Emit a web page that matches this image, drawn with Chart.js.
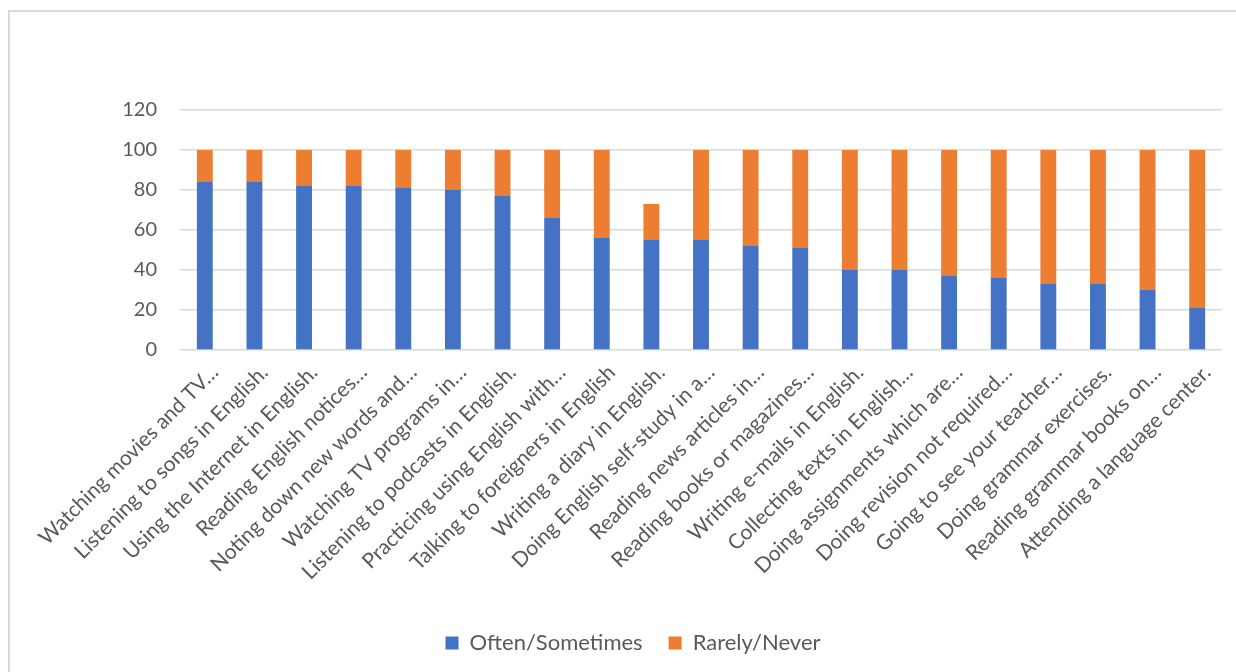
<!DOCTYPE html>
<html>
<head>
<meta charset="utf-8">
<title>English learning activities</title>
<script src="https://cdn.jsdelivr.net/npm/chart.js@4.4.1/dist/chart.umd.min.js"></script>
<style>
  html, body { margin: 0; padding: 0; background: #fff; }
  #wrap { width: 1236px; height: 672px; }
</style>
</head>
<body>
<div id="wrap"><canvas id="activityChart" width="1236" height="672"></canvas></div>
<script>
const activities = [
  'Watching movies and TV…',
  'Listening to songs in English.',
  'Using the Internet in English.',
  'Reading English notices…',
  'Noting down new words and…',
  'Watching TV programs in…',
  'Listening to podcasts in English.',
  'Practicing using English with…',
  'Talking to foreigners in English',
  'Writing a diary in English.',
  'Doing English self-study in a…',
  'Reading news articles in…',
  'Reading books or magazines…',
  'Writing e-mails in English.',
  'Collecting texts in English…',
  'Doing assignments which are…',
  'Doing revision not required…',
  'Going to see your teacher…',
  'Doing grammar exercises.',
  'Reading grammar books on…',
  'Attending a language center.'
];
const oftenSometimes = [84, 84, 82, 82, 81, 80, 77, 66, 56, 55, 55, 52, 51, 40, 40, 37, 36, 33, 33, 30, 21];
const rarelyNever    = [16, 16, 18, 18, 19, 20, 23, 34, 44, 18, 45, 48, 49, 60, 60, 63, 64, 67, 67, 70, 79];
const yTicks = [0, 20, 40, 60, 80, 100, 120];

const textColor = '#595959';
const gridColor = '#d9d9d9';
const fontFamily = 'Lato, "Open Sans", sans-serif';

// light frame around the chart area, like an office chart
const chartFrame = {
  id: 'chartFrame',
  beforeDraw(chart) {
    const ctx = chart.ctx;
    ctx.save();
    ctx.fillStyle = '#fff';
    ctx.fillRect(0, 0, chart.width, chart.height);
    ctx.strokeStyle = gridColor;
    ctx.lineWidth = 2;
    ctx.strokeRect(9, 11, chart.width + 20, chart.height + 20);
    ctx.restore();
  },
  // legend sits a little right of centre
  afterLayout(chart) {
    if (chart.legend) {
      chart.legend.left += 17;
      chart.legend.right += 17;
    }
  }
};

new Chart(document.getElementById('activityChart'), {
  type: 'bar',
  data: {
    labels: activities,
    datasets: [
      { label: 'Often/Sometimes', data: oftenSometimes, backgroundColor: '#4472c4' },
      { label: 'Rarely/Never', data: rarelyNever, backgroundColor: '#ed7d31' }
    ]
  },
  options: {
    responsive: false,
    animation: false,
    layout: { padding: { top: 110, left: 10, right: 14, bottom: 8 } },
    datasets: { bar: { categoryPercentage: 1, barPercentage: 0.32 } },
    plugins: {
      legend: {
        position: 'bottom',
        labels: {
          color: textColor,
          font: { family: fontFamily, size: 22 },
          boxWidth: 13,
          boxHeight: 13,
          padding: 26
        }
      },
      tooltip: { enabled: false }
    },
    scales: {
      x: {
        stacked: true,
        grid: { display: false },
        border: { display: false },
        ticks: {
          color: textColor,
          font: { family: fontFamily, size: 21 },
          minRotation: 45,
          maxRotation: 45,
          autoSkip: false,
          padding: 2,
          labelOffset: 10
        },
        afterFit(scale) { scale.height = 256; }
      },
      y: {
        stacked: true,
        min: 0,
        max: 120,
        afterBuildTicks(scale) { scale.ticks = yTicks.map(v => ({ value: v })); },
        grid: { color: gridColor, lineWidth: 1.5, drawTicks: false },
        border: { display: false },
        ticks: {
          color: textColor,
          font: { family: fontFamily, size: 20 },
          padding: 23
        },
        afterFit(scale) { scale.width = 170; }
      }
    }
  },
  plugins: [chartFrame]
});
</script>
</body>
</html>
